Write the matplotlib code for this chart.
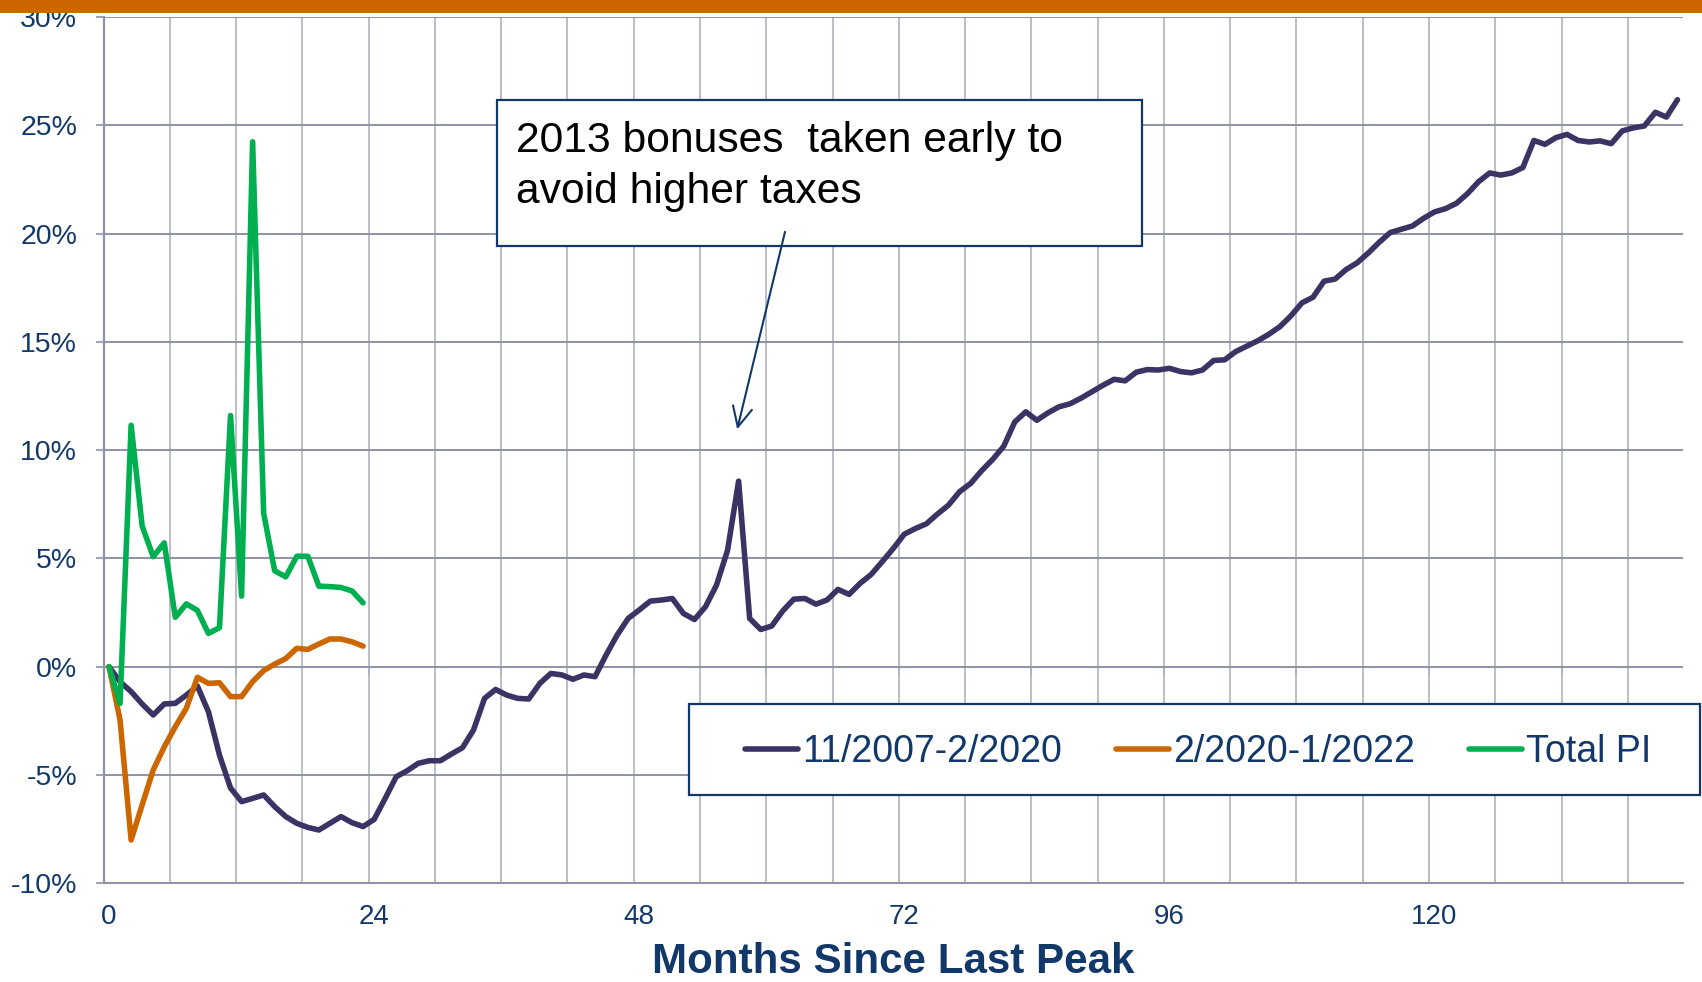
import numpy as np
import matplotlib
matplotlib.use("Agg")
import matplotlib.pyplot as plt
from matplotlib.patches import Rectangle

plt.rcParams['font.family'] = ['Liberation Sans', 'DejaVu Sans']

# ---------------- data (percent change since last peak) ----------------
series_2007 = [
    0.0, -0.69, -1.15, -1.72, -2.23, -1.72, -1.69, -1.31, -0.89, -2.08,
    -4.08, -5.6, -6.23, -6.08, -5.92, -6.46, -6.92, -7.23, -7.42, -7.54,
    -7.23, -6.92, -7.2, -7.38, -7.05, -6.08, -5.08, -4.8, -4.46, -4.34,
    -4.34, -4.03, -3.74, -2.92, -1.46, -1.05, -1.31, -1.46, -1.49, -0.77,
    -0.31, -0.38, -0.58, -0.38, -0.46, 0.54, 1.46, 2.23, 2.62, 3.03,
    3.08, 3.15, 2.46, 2.18, 2.77, 3.77, 5.38, 8.57, 2.23, 1.72,
    1.88, 2.58, 3.12, 3.15, 2.89, 3.08, 3.57, 3.34, 3.85, 4.26,
    4.85, 5.46, 6.12, 6.38, 6.6, 7.05, 7.46, 8.08, 8.46, 9.05,
    9.57, 10.18, 11.3, 11.77, 11.38, 11.72, 12.0, 12.14, 12.4, 12.7,
    13.0, 13.27, 13.2, 13.6, 13.72, 13.7, 13.78, 13.63, 13.57, 13.7,
    14.14, 14.17, 14.55, 14.8, 15.05, 15.35, 15.7, 16.2, 16.8, 17.06,
    17.8, 17.9, 18.34, 18.65, 19.1, 19.6, 20.05, 20.2, 20.35, 20.7,
    21.0, 21.15, 21.4, 21.85, 22.4, 22.8, 22.7, 22.8, 23.05, 24.3,
    24.12, 24.43, 24.58, 24.3, 24.23, 24.28, 24.15, 24.74, 24.88, 24.97,
    25.6, 25.38, 26.18,
]
series_2020 = [
    0.0, -2.46, -8.0, -6.38, -4.77, -3.7, -2.77, -1.92, -0.49, -0.77,
    -0.74, -1.38, -1.38, -0.69, -0.18, 0.12, 0.38, 0.85, 0.8, 1.05,
    1.28, 1.28, 1.15, 0.95,
]
series_total_pi = [
    0.0, -1.7, 11.15, 6.5, 5.08, 5.72, 2.28, 2.9, 2.6, 1.54,
    1.8, 11.6, 3.26, 24.24, 7.08, 4.43, 4.15, 5.1, 5.1, 3.72,
    3.7, 3.66, 3.5, 2.95,
]
series_names = ["11/2007-2/2020", "2/2020-1/2022", "Total PI"]
series_colors = ["#3A3363", "#CC6600", "#00B050"]
x_tick_labels = ["0", "24", "48", "72", "96", "120"]
y_tick_values = [-10, -5, 0, 5, 10, 15, 20, 25, 30]
annotation_text = "2013 bonuses  taken early to\navoid higher taxes"
x_label = "Months Since Last Peak"

# ---------------- styling ----------------
NAVY = "#12386A"
HGRID = "#8F92A5"
VGRID = "#B5B8C5"

W, H = 1702, 982
fig = plt.figure(figsize=(W / 100, H / 100), dpi=100)
L, R, T, B = 103.5, 1683.0, 17.0, 883.3
ax = fig.add_axes([L / W, 1 - B / H, (R - L) / W, (B - T) / H])

n_cat = len(series_2007)
ax.set_xlim(0, n_cat)
ax.set_ylim(-10, 30)

LW = 4.0
# category-centred positions (Excel style)
for vals, name, col in zip([series_2007, series_2020, series_total_pi], series_names, series_colors):
    xs = np.arange(len(vals)) + 0.5
    ax.plot(xs, vals, color=col, lw=LW, label=name, solid_capstyle='round',
            solid_joinstyle='round', zorder=3)

# grid
ax.set_xticks(np.arange(0, 121, 24) + 0.5)
ax.set_xticklabels(x_tick_labels)
ax.set_yticks(y_tick_values)
ax.set_yticklabels([f"{v}%" for v in y_tick_values])
ax.grid(False)
for xv in np.arange(0, n_cat, 6)[1:]:
    ax.axvline(xv, color=VGRID, lw=1.3, zorder=1)
for yv in y_tick_values:
    ax.axhline(yv, color=HGRID, lw=1.4, zorder=1.1)

ax.tick_params(axis='x', which='both', length=0, pad=15, labelsize=20, labelcolor=NAVY)
ax.tick_params(axis='y', which='major', length=6, width=1.2, color=HGRID, pad=13,
               labelsize=20.5, labelcolor=NAVY, direction='out')
for s in ['top', 'right']:
    ax.spines[s].set_visible(False)
ax.spines['left'].set_color(HGRID)
ax.spines['left'].set_linewidth(1.6)
ax.spines['bottom'].set_color(HGRID)
ax.spines['bottom'].set_linewidth(1.4)

# small tick marks on the 0% line every 12 months
sec = ax.secondary_xaxis(0.25)
sec.set_xticks(np.arange(12, n_cat, 12))
sec.set_xticklabels([])
sec.tick_params(length=6, width=1.3, color="#6E7288", direction='out')
sec.spines['bottom'].set_visible(False)

# x label
ax.set_xlabel(x_label, fontsize=30.3, fontweight='bold', color=NAVY)
ax.xaxis.label.set_va('center')
ax.xaxis.set_label_coords(0.5, -(962 - B) / (B - T))

# annotation box
bx0 = (497 - L) / 11.047
bx1 = (1142 - L) / 11.047
by1 = (666.7 - 100) / 21.66
by0 = (666.7 - 246) / 21.66
ax.add_patch(Rectangle((bx0, by0), bx1 - bx0, by1 - by0, facecolor='white',
                       edgecolor=NAVY, lw=1.6, zorder=5))
ax.text((516 - L) / 11.047, (666.7 - 121) / 21.66, annotation_text, fontsize=30.7,
        color='black', va='top', ha='left', linespacing=1.34, zorder=6)
ax.annotate('', xy=(57.37, 10.96), xytext=(61.7, 20.08),
            arrowprops=dict(arrowstyle='->,head_length=0.72,head_width=0.35',
                            color=NAVY, lw=1.5, shrinkA=0, shrinkB=0,
                            mutation_scale=20), zorder=6)

# legend (frame drawn separately)
fig.patches.append(Rectangle((689 / W, 1 - 795 / H), (1700 - 689) / W, (795 - 704) / H,
                             transform=fig.transFigure, facecolor='white',
                             edgecolor=NAVY, lw=1.6, zorder=4))
leg = fig.legend(loc='center left', bbox_to_anchor=(745 / W, 1 - 752.5 / H), ncol=3,
                 frameon=False, fontsize=27, handlelength=1.42, handletextpad=0.1,
                 columnspacing=1.44, borderpad=0, borderaxespad=0, labelcolor=NAVY)
leg.set_zorder(5)
for h in leg.get_lines():
    h.set_linewidth(LW)

# top orange bar
fig.patches.append(Rectangle((0, 1 - 12.7 / H), 1, 12.7 / H, transform=fig.transFigure,
                             facecolor="#CC6600", edgecolor='none', zorder=10))

fig.savefig("out.png", dpi=100)
